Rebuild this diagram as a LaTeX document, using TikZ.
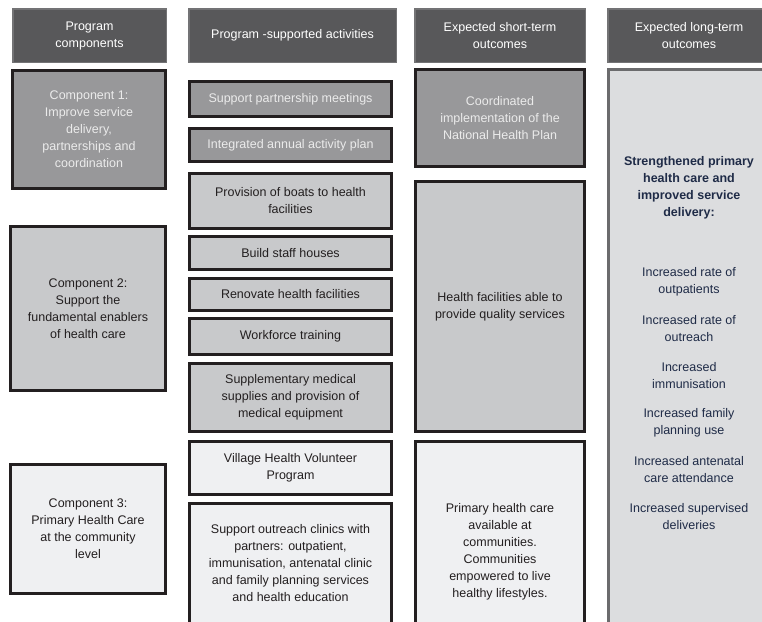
\documentclass[tikz,border=0pt]{standalone}
\usepackage{fontspec}
\setmainfont{Liberation Sans}
\usetikzlibrary{positioning}
\definecolor{headfill}{HTML}{58585A}
\definecolor{headline}{HTML}{737375}
\definecolor{midgray}{HTML}{98989A}
\definecolor{litegray}{HTML}{C8C9CB}
\definecolor{palegray}{HTML}{EFF0F2}
\definecolor{outfill}{HTML}{DCDDDF}
\definecolor{outline}{HTML}{6B6B6D}
\definecolor{boxline}{HTML}{231F20}
\definecolor{navy}{HTML}{1F2B47}
\tikzset{
    txt/.style =    {font=\fontsize{12.5}{17}\selectfont,
                    align=center},
    head/.style =   {rectangle,
                    txt,
                    fill=headfill,
                    draw=headline,
                    text=white,
                    line width=1.5pt,
                    inner sep=0pt,
                    anchor=north west},
    blk/.style =    {rectangle,
                    txt,
                    draw=boxline,
                    text=boxline,
                    line width=3pt,
                    inner sep=0pt,
                    anchor=north west},
    dark/.style =   {blk,
                    fill=midgray,
                    text=white!92!black},
    mid/.style =    {blk,
                    fill=litegray},
    pale/.style =   {blk,
                    fill=palegray},
    outc/.style =   {txt,
                    text=navy},
    -,
    act/.style =    {minimum width=202pt},
    st/.style =     {minimum width=169pt}}

\begin{document}
\begin{tikzpicture}[x=1pt,y=-1pt]
                \useasboundingbox (0,0) rectangle (762,621);
                % headers
                \node[head] (H1) at (12,8)  [minimum width=153.5pt,minimum height=53.5pt] {Program\\components};
                \node[head] (H2) at (188,8) [minimum width=207.5pt,minimum height=53.5pt] {Program -supported activities};
                \node[head] (H3) at (414,8) [minimum width=170.5pt,minimum height=53.5pt] {Expected short-term\\outcomes};
                \node[head] (H4) at (607,8) [minimum width=162.5pt,minimum height=53.5pt] {Expected long-term\\outcomes};
                % program components
                \node[dark] (C1) at (11,69)  [minimum width=153pt,minimum height=118pt] {Component 1:\\Improve service\\delivery,\\partnerships and\\coordination};
                \node[mid]  (C2) at (9,225)  [minimum width=155pt,minimum height=164pt] {Component 2:\\Support the\\fundamental enablers\\of health care};
                \node[pale] (C3) at (9,463)  [minimum width=155pt,minimum height=129pt] {Component 3:\\Primary Health Care\\at the community\\level};
                % activities
                \node[dark,act] (A1) at (188,80)  [minimum height=35pt] {Support partnership meetings};
                \node[dark,act] (A2) at (188,127) [minimum height=33pt] {Integrated annual activity plan};
                \node[mid,act]  (A3) at (188,172) [minimum height=55pt] {Provision of boats to health\\facilities};
                \node[mid,act]  (A4) at (188,235) [minimum height=33pt] {Build staff houses};
                \node[mid,act]  (A5) at (188,277) [minimum height=32pt] {Renovate health facilities};
                \node[mid,act]  (A6) at (188,317) [minimum height=36pt] {Workforce training};
                \node[mid,act]  (A7) at (188,362) [minimum height=68pt] {Supplementary medical\\supplies and provision of\\medical equipment};
                \node[pale,act] (A8) at (188,440) [minimum height=53pt] {Village Health Volunteer\\Program};
                \node[pale,act] (A9) at (188,502) [minimum height=120pt] {Support outreach clinics with\\partners: outpatient,\\immunisation, antenatal clinic\\and family planning services\\and health education};
                % short-term outcomes
                \node[dark,st] (S1) at (414,68)  [minimum height=97pt]  {Coordinated\\implementation of the\\National Health Plan};
                \node[mid,st]  (S2) at (414,180) [minimum height=250pt] {Health facilities able to\\provide quality services};
                \node[pale,st] (S3) at (414,440) [minimum height=220pt] {Primary health care\\available at\\communities.\\Communities\\empowered to live\\healthy lifestyles.};
                % long-term outcomes
                \node[rectangle,fill=outfill,draw=outline,line width=3pt,anchor=north west,
                      minimum width=161pt,minimum height=600pt] (L) at (607,68) {};
                \node[outc,font=\fontsize{12.5}{17}\selectfont\bfseries] (LB) at (689,188)
                      {Strengthened primary\\health care and\\improved service\\delivery:};
                \foreach \t [count=\i from 0] in {Increased rate of\\outpatients,
                                                  Increased rate of\\outreach,
                                                  Increased\\immunisation,
                                                  Increased family\\planning use,
                                                  Increased antenatal\\care attendance,
                                                  Increased supervised\\deliveries}
                    \node[outc] (L\i) at (689,282+47*\i) {\t};
        \end{tikzpicture}
\end{document}
